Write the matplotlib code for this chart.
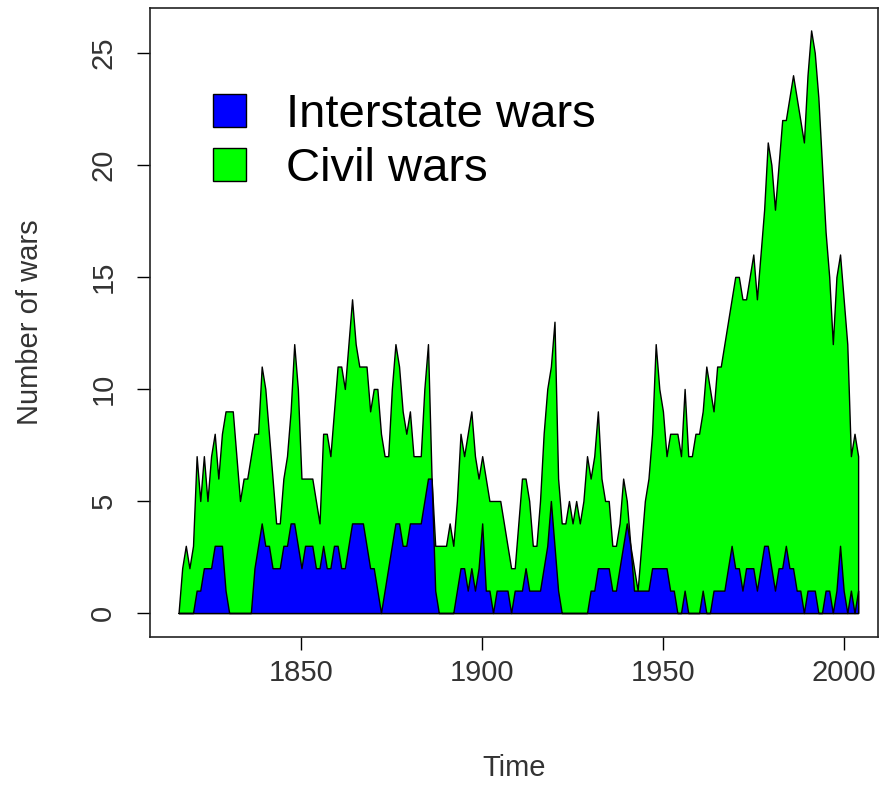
import numpy as np
import matplotlib
matplotlib.use("Agg")
import matplotlib.pyplot as plt
from matplotlib.patches import Patch

plt.rcParams["font.family"] = ["Liberation Sans", "DejaVu Sans"]

# Wars per year, 1816-2004
years = np.arange(1816, 2005)

# total = interstate + civil (top of the green area)
total_wars = [
    0, 2, 3, 2, 3, 7, 5, 7, 5, 7,            # 1816-1825
    8, 6, 8, 9, 9, 9, 7, 5, 6, 6,            # 1826-1835
    7, 8, 8, 11, 10, 8, 6, 4, 4, 6,          # 1836-1845
    7, 9, 12, 10, 6, 6, 6, 6, 5, 4,          # 1846-1855
    8, 8, 7, 9, 11, 11, 10, 12, 14, 12,      # 1856-1865
    11, 11, 11, 9, 10, 10, 8, 7, 7, 10,      # 1866-1875
    12, 11, 9, 8, 9, 7, 7, 7, 10, 12,        # 1876-1885
    6, 3, 3, 3, 3, 4, 3, 5, 8, 7,            # 1886-1895
    8, 9, 7, 6, 7, 6, 5, 5, 5, 5,            # 1896-1905
    4, 3, 2, 2, 4, 6, 6, 5, 3, 3,            # 1906-1915
    5, 8, 10, 11, 13, 6, 4, 4, 5, 4,         # 1916-1925
    5, 4, 5, 7, 6, 7, 9, 6, 5, 5,            # 1926-1935
    3, 3, 4, 6, 5, 3, 2, 1, 3, 5,            # 1936-1945
    6, 8, 12, 10, 9, 7, 8, 8, 8, 7,          # 1946-1955
    10, 7, 7, 8, 8, 9, 11, 10, 9, 11,        # 1956-1965
    11, 12, 13, 14, 15, 15, 14, 14, 15, 16,  # 1966-1975
    14, 16, 18, 21, 20, 18, 20, 22, 22, 23,  # 1976-1985
    24, 23, 22, 21, 24, 26, 25, 23, 20, 17,  # 1986-1995
    15, 12, 15, 16, 14, 12, 7, 8, 7,         # 1996-2004
]

interstate_wars = [
    0, 0, 0, 0, 0, 1, 1, 2, 2, 2,            # 1816-1825
    3, 3, 3, 1, 0, 0, 0, 0, 0, 0,            # 1826-1835
    0, 2, 3, 4, 3, 3, 2, 2, 2, 3,            # 1836-1845
    3, 4, 4, 3, 2, 3, 3, 3, 2, 2,            # 1846-1855
    3, 2, 2, 3, 3, 2, 2, 3, 4, 4,            # 1856-1865
    4, 4, 3, 2, 2, 1, 0, 1, 2, 3,            # 1866-1875
    4, 4, 3, 3, 4, 4, 4, 4, 5, 6,            # 1876-1885
    6, 1, 0, 0, 0, 0, 0, 1, 2, 2,            # 1886-1895
    1, 2, 1, 2, 4, 1, 1, 0, 1, 1,            # 1896-1905
    1, 1, 0, 1, 1, 1, 2, 1, 1, 1,            # 1906-1915
    1, 2, 3, 5, 3, 1, 0, 0, 0, 0,            # 1916-1925
    0, 0, 0, 0, 1, 1, 2, 2, 2, 2,            # 1926-1935
    1, 1, 2, 3, 4, 3, 1, 1, 1, 1,            # 1936-1945
    1, 2, 2, 2, 2, 2, 1, 1, 0, 0,            # 1946-1955
    1, 0, 0, 0, 0, 1, 0, 0, 1, 1,            # 1956-1965
    1, 1, 2, 3, 2, 2, 1, 2, 2, 2,            # 1966-1975
    1, 2, 3, 3, 2, 1, 2, 2, 3, 2,            # 1976-1985
    2, 1, 1, 0, 1, 1, 1, 0, 0, 1,            # 1986-1995
    1, 0, 1, 3, 1, 0, 1, 0, 1,               # 1996-2004
]

legend_labels = ["Interstate wars", "Civil wars"]
x_ticks = [1850, 1900, 1950, 2000]
y_ticks = [0, 5, 10, 15, 20, 25]

BLUE = "#0000FF"
GREEN = "#00FF00"
TEXT = "#333333"

fig = plt.figure(figsize=(8.85, 7.86), dpi=100)
ax = fig.add_axes([150 / 885, 149 / 786, 728 / 885, 629 / 786])

ax.fill_between(years, 0, total_wars, facecolor=GREEN, edgecolor="black", linewidth=1.0)
ax.fill_between(years, 0, interstate_wars, facecolor=BLUE, edgecolor="black", linewidth=1.0)

ax.set_xlim(1808.1, 2009.5)
ax.set_ylim(-1.07, 27.0)
ax.set_xticks(x_ticks)
ax.set_yticks(y_ticks)
ax.set_yticklabels([str(v) for v in y_ticks], rotation=90, va="center")

ax.tick_params(direction="out", length=9.5, width=1, colors="black", labelsize=21,
               labelcolor=TEXT)
ax.tick_params(axis="x", pad=6)
ax.tick_params(axis="y", pad=14)
for sp in ax.spines.values():
    sp.set_linewidth(1.2)
    sp.set_color("#222222")

ax.set_xlabel("Time", fontsize=21, color=TEXT, va="center")
ax.set_ylabel("Number of wars", fontsize=21, color=TEXT, va="center")
ax.xaxis.set_label_coords(0.5, -(768 - 637) / 629)
ax.yaxis.set_label_coords(-(150 - 30) / 728, 0.5)

handles = [Patch(facecolor=BLUE, edgecolor="black", linewidth=1.0),
           Patch(facecolor=GREEN, edgecolor="black", linewidth=1.0)]
ax.legend(handles, legend_labels, loc="upper left", bbox_to_anchor=(0.060, 0.895),
          frameon=False, fontsize=34, handlelength=0.70, handleheight=0.70,
          handletextpad=0.85, labelspacing=0.22, borderaxespad=0)

fig.savefig("out.png", dpi=100)
